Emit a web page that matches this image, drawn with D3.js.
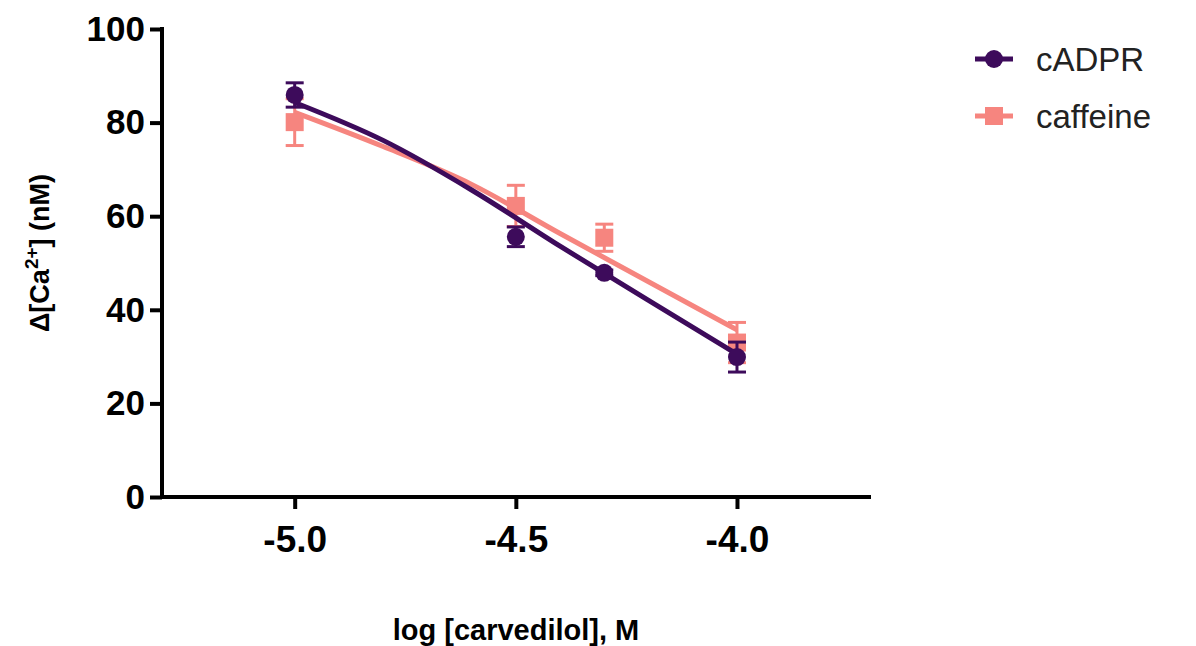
<!DOCTYPE html>
<html>
<head>
<meta charset="utf-8">
<script src="https://cdn.jsdelivr.net/npm/d3@7"></script>
<style>
  html, body { margin: 0; padding: 0; background: #fff; }
  svg { display: block; }
  text { font-family: Arial, 'Liberation Sans', Helvetica, sans-serif; }
</style>
</head>
<body>
<svg id="chart" width="1196" height="646"></svg>
<script>
// log [carvedilol] (M) where measurements were taken
const doses = [-5.0, -4.5, -4.3, -4.0];

// mean and SEM
const cadprMean = [85.9, 55.6, 47.9, 29.9];
const cadprErr = [2.6, 2.1, 0.6, 3.2];
const caffeineMean = [80.1, 62.2, 55.4, 33.0];
const caffeineErr = [5.0, 4.4, 2.9, 4.3];

// fitted curves
const fitX = [-5.0, -4.8, -4.6, -4.4, -4.2, -4.0];
const cadprFit = [84.3, 76.2, 65.6, 53.6, 42.0, 30.5];
const caffeineFit = [82.2, 74.9, 66.8, 56.3, 46.0, 35.7];

const xTicks = [-5.0, -4.5, -4.0];
const yTicks = [0, 20, 40, 60, 80, 100];

const purple = '#3d0b5b';
const salmon = '#f6857f';

const svg = d3.select('#chart');

const x = d3.scaleLinear().domain([-5.3, -3.697]).range([162, 871]);
const y = d3.scaleLinear().domain([0, 100]).range([497, 29]);

// Ejes
const yAxis = svg.append('g')
    .attr('transform', 'translate(162,0)')
    .call(d3.axisLeft(y).tickValues(yTicks).tickSize(12).tickPadding(5).tickSizeOuter(0));
yAxis.select('.domain').attr('stroke', '#000').attr('stroke-width', 4)
    .attr('d', `M0,${y(100) - 2}V${y(0) + 2}`);
yAxis.selectAll('.tick line').attr('stroke', '#000').attr('stroke-width', 4);
yAxis.selectAll('.tick text')
    .style('font-size', '35px')
    .style('font-weight', 'bold')
    .attr('fill', '#000');

const xAxis = svg.append('g')
    .attr('transform', `translate(0,${y(0)})`)
    .call(d3.axisBottom(x).tickValues(xTicks).tickSize(12).tickPadding(17).tickSizeOuter(0));
xAxis.select('.domain').attr('stroke', '#000').attr('stroke-width', 4)
    .attr('d', `M${x(-5.3) - 2},0H${x(-3.697)}`);
xAxis.selectAll('.tick line').attr('stroke', '#000').attr('stroke-width', 4);
xAxis.selectAll('.tick text')
    .style('font-size', '37px')
    .style('font-weight', 'bold')
    .attr('fill', '#000')
    .text(d => d3.format('.1f')(d).replace('−', '-'));

// Etiquetas de ejes
svg.append('text')
    .attr('x', 516)
    .attr('y', 640)
    .attr('text-anchor', 'middle')
    .style('font-size', '29px')
    .style('font-weight', 'bold')
    .text('log [carvedilol], M');

const yTitle = svg.append('text')
    .attr('transform', 'translate(49,253) rotate(-90)')
    .attr('text-anchor', 'middle')
    .style('font-size', '27px')
    .style('font-weight', 'bold');
yTitle.append('tspan').text('Δ[Ca');
yTitle.append('tspan').attr('dy', -11).style('font-size', '19px').text('2+');
yTitle.append('tspan').attr('dy', 11).text('] (nM)');

const line = d3.line()
    .x(d => x(d[0]))
    .y(d => y(d[1]))
    .curve(d3.curveMonotoneX);

function drawSeries(fit, mean, err, color, shape) {
    const g = svg.append('g');
    g.append('path')
        .datum(fitX.map((v, i) => [v, fit[i]]))
        .attr('d', line)
        .attr('fill', 'none')
        .attr('stroke', color)
        .attr('stroke-width', 5);

    const pts = doses.map((d, i) => ({ x: d, m: mean[i], e: err[i] }));
    const eb = g.selectAll('.eb').data(pts).enter().append('g');
    eb.append('line')
        .attr('x1', d => x(d.x)).attr('x2', d => x(d.x))
        .attr('y1', d => y(d.m + d.e)).attr('y2', d => y(d.m - d.e))
        .attr('stroke', color).attr('stroke-width', 3);
    [1, -1].forEach(s => {
        eb.append('line')
            .attr('x1', d => x(d.x) - 9).attr('x2', d => x(d.x) + 9)
            .attr('y1', d => y(d.m + s * d.e)).attr('y2', d => y(d.m + s * d.e))
            .attr('stroke', color).attr('stroke-width', 3);
    });

    if (shape === 'circle') {
        g.selectAll('.pt').data(pts).enter().append('circle')
            .attr('cx', d => x(d.x)).attr('cy', d => y(d.m)).attr('r', 9)
            .attr('fill', color);
    } else {
        g.selectAll('.pt').data(pts).enter().append('rect')
            .attr('x', d => x(d.x) - 9).attr('y', d => y(d.m) - 9)
            .attr('width', 18).attr('height', 18)
            .attr('fill', color);
    }
}

drawSeries(caffeineFit, caffeineMean, caffeineErr, salmon, 'square');
drawSeries(cadprFit, cadprMean, cadprErr, purple, 'circle');

// Leyenda
const legend = [
    { name: 'cADPR', color: purple, shape: 'circle', yy: 59 },
    { name: 'caffeine', color: salmon, shape: 'square', yy: 116 }
];
legend.forEach(l => {
    const lg = svg.append('g').attr('transform', `translate(975,${l.yy})`);
    lg.append('line').attr('x1', 0).attr('x2', 38).attr('y1', 0).attr('y2', 0)
        .attr('stroke', l.color).attr('stroke-width', 5);
    if (l.shape === 'circle') {
        lg.append('circle').attr('cx', 19).attr('cy', 0).attr('r', 9).attr('fill', l.color);
    } else {
        lg.append('rect').attr('x', 10).attr('y', -9).attr('width', 18).attr('height', 18).attr('fill', l.color);
    }
    lg.append('text')
        .attr('x', 61)
        .attr('y', 12)
        .style('font-size', '33px')
        .attr('fill', '#222')
        .text(l.name);
});
</script>
</body>
</html>
